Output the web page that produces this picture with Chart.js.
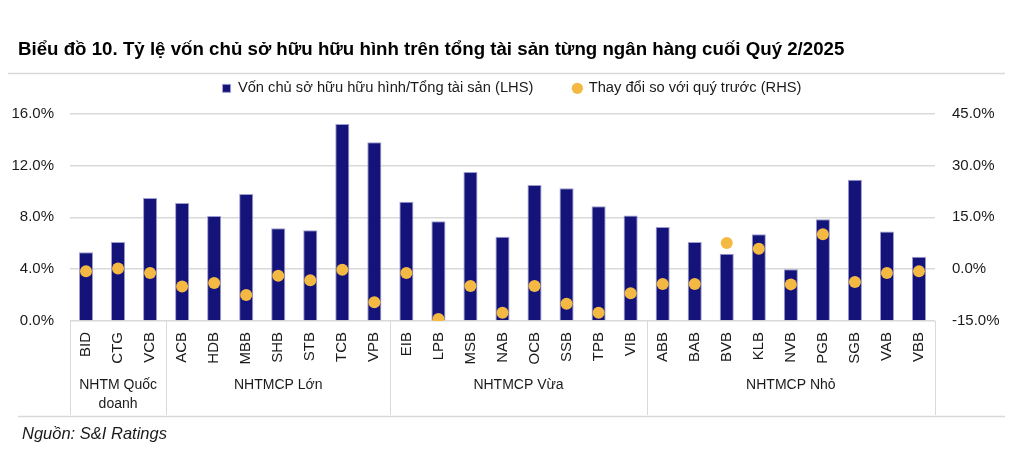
<!DOCTYPE html>
<html>
<head>
<meta charset="utf-8">
<script src="https://cdn.jsdelivr.net/npm/chart.js@4.4.1/dist/chart.umd.min.js"></script>
<style>
  html, body { margin: 0; padding: 0; background: #fff; }
  #wrap { width: 1024px; height: 462px; }
</style>
</head>
<body>
<div id="wrap"><canvas id="chart" width="1024" height="462"></canvas></div>
<script>
const banks = ['BID','CTG','VCB','ACB','HDB','MBB','SHB','STB','TCB','VPB',
  'EIB','LPB','MSB','NAB','OCB','SSB','TPB','VIB',
  'ABB','BAB','BVB','KLB','NVB','PGB','SGB','VAB','VBB'];
// tangible equity / total assets (%)
const equityRatio = [5.3, 6.1, 9.5, 9.1, 8.1, 9.8, 7.15, 7.0, 15.2, 13.8,
  9.2, 7.7, 11.5, 6.5, 10.5, 10.25, 8.85, 8.15,
  7.25, 6.1, 5.2, 6.7, 4.0, 7.85, 10.9, 6.9, 4.95];
// change vs previous quarter (%)
const qoqChange = [-0.6, 0.2, -1.1, -5.0, -4.0, -7.5, -1.9, -3.2, -0.2, -9.6,
  -1.1, -14.4, -4.9, -12.6, -4.9, -10.0, -12.6, -7.0,
  -4.3, -4.3, 7.6, 5.9, -4.4, 10.1, -3.7, -1.1, -0.6];
const groupNames = [['NHTM Quốc', 'doanh'], ['NHTMCP Lớn'], ['NHTMCP Vừa'], ['NHTMCP Nhỏ']];
const groupSizes = [3, 7, 8, 9];

const fontFamily = '"Liberation Sans", Arial, sans-serif';
const gridColor = '#d9d9d9';
const textColor = '#1a1a1a';

// heading, group boxes under the x axis, rule lines and source note
const extras = {
  id: 'extras',
  afterDraw(chart) {
    const ctx = chart.ctx;
    const area = chart.chartArea;
    const step = (area.right - area.left) / banks.length;
    ctx.save();
    // heading
    ctx.fillStyle = '#000';
    ctx.font = 'bold 18.7px ' + fontFamily;
    ctx.textAlign = 'left';
    ctx.textBaseline = 'middle';
    ctx.fillText('Biểu đồ 10. Tỷ lệ vốn chủ sở hữu hữu hình trên tổng tài sản từng ngân hàng cuối Quý 2/2025', 18, 50);

    ctx.strokeStyle = gridColor;
    ctx.lineWidth = 1.5;
    // line under the heading
    ctx.beginPath();
    ctx.moveTo(8, 73.5);
    ctx.lineTo(1005, 73.5);
    ctx.stroke();
    // bottom rule
    ctx.beginPath();
    ctx.moveTo(18, 416.5);
    ctx.lineTo(1005, 416.5);
    ctx.stroke();
    // group separators and names
    ctx.lineWidth = 1;
    let start = 0;
    ctx.fillStyle = textColor;
    ctx.font = '14px ' + fontFamily;
    ctx.textAlign = 'center';
    for (let g = 0; g < groupSizes.length; g++) {
      const x0 = area.left + start * step;
      const x1 = area.left + (start + groupSizes[g]) * step;
      ctx.beginPath();
      ctx.moveTo(Math.round(x0) + 0.5, area.bottom);
      ctx.lineTo(Math.round(x0) + 0.5, 415);
      ctx.stroke();
      groupNames[g].forEach((t, i) => ctx.fillText(t, (x0 + x1) / 2, 385 + i * 19));
      start += groupSizes[g];
    }
    ctx.beginPath();
    ctx.moveTo(Math.round(area.right) + 0.5, area.bottom);
    ctx.lineTo(Math.round(area.right) + 0.5, 415);
    ctx.stroke();
    // source
    ctx.textAlign = 'left';
    ctx.font = 'italic 16.5px ' + fontFamily;
    ctx.fillText('Nguồn: S&I Ratings', 22, 434);
    ctx.restore();
  }
};

const chart = new Chart(document.getElementById('chart'), {
  data: {
    labels: banks,
    datasets: [
      {
        type: 'bar',
        label: 'Vốn chủ sở hữu hữu hình/Tổng tài sản (LHS)',
        data: equityRatio,
        yAxisID: 'y',
        backgroundColor: '#13137a',
        borderColor: '#9d9dcf',
        borderWidth: 1,
        barPercentage: 0.44,
        categoryPercentage: 1,
        pointStyle: 'rect',
        order: 1
      },
      {
        type: 'line',
        label: 'Thay đổi so với quý trước (RHS)',
        data: qoqChange,
        yAxisID: 'y1',
        showLine: false,
        pointRadius: 6,
        pointHoverRadius: 6,
        pointBackgroundColor: '#f4b942',
        pointBorderWidth: 0,
        backgroundColor: '#f4b942',
        borderColor: '#f4b942',
        pointStyle: 'circle',
        order: 0
      }
    ]
  },
  options: {
    responsive: false,
    animation: false,
    layout: { padding: { left: 0, right: 0, top: 41, bottom: 0 } },
    plugins: {
      title: { display: false },
      legend: {
        position: 'top',
        labels: {
          usePointStyle: true,
          boxWidth: 8,
          boxHeight: 8,
          padding: 40,
          color: textColor,
          font: { family: fontFamily, size: 14.7 },
          sort: (a, b) => a.datasetIndex - b.datasetIndex
        }
      },
      // empty spacer between legend and plot
      subtitle: {
        display: true,
        text: '',
        weight: 500,
        font: { size: 8, lineHeight: 1 },
        padding: 0
      },
      tooltip: { enabled: false }
    },
    scales: {
      x: {
        grid: { display: false, drawTicks: false },
        border: { display: false },
        ticks: {
          minRotation: 90,
          maxRotation: 90,
          autoSkip: false,
          padding: 11,
          color: textColor,
          font: { family: fontFamily, size: 15 }
        },
        afterFit(scale) { scale.height = 141; }
      },
      y: {
        position: 'left',
        min: 0,
        max: 16,
        grid: { color: gridColor, lineWidth: 1.5, drawTicks: false },
        border: { display: false },
        ticks: {
          stepSize: 4,
          padding: 16,
          color: textColor,
          font: { family: fontFamily, size: 15 },
          callback: v => v.toFixed(1) + '%'
        },
        afterFit(scale) { scale.width = 70; }
      },
      y1: {
        position: 'right',
        min: -15,
        max: 45,
        grid: { display: false, drawTicks: false },
        border: { display: false },
        ticks: {
          stepSize: 15,
          padding: 17,
          color: textColor,
          font: { family: fontFamily, size: 15 },
          callback: v => v.toFixed(1) + '%'
        },
        afterFit(scale) { scale.width = 89; }
      }
    }
  },
  plugins: [extras]
});
</script>
</body>
</html>
